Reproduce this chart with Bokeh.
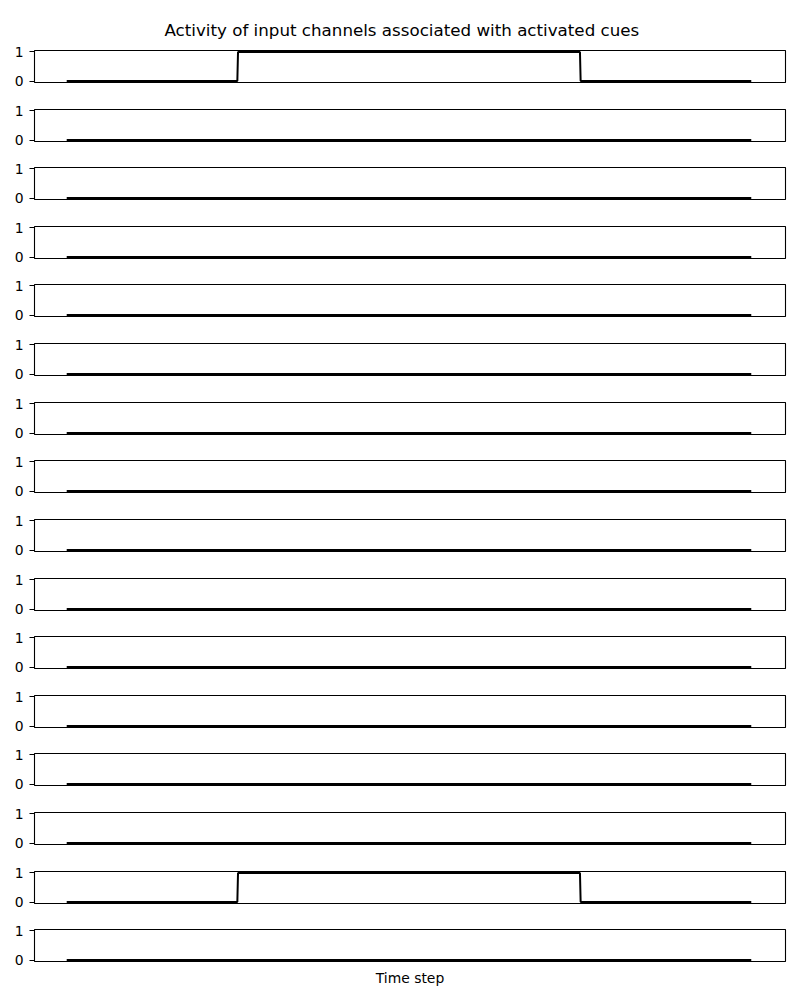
from bokeh.plotting import figure
from bokeh.layouts import column
from bokeh.models import Range1d, FixedTicker, LinearAxis
from bokeh.embed import file_html
from bokeh.resources import INLINE

title_text = "Activity of input channels associated with activated cues"
x_label = "Time step"

# breakpoints of each channel's activity (time step, level)
time_points = [0, 249, 250, 749, 750, 999]
channels = [
    [0, 0, 1, 1, 0, 0],
    [0, 0, 0, 0, 0, 0],
    [0, 0, 0, 0, 0, 0],
    [0, 0, 0, 0, 0, 0],
    [0, 0, 0, 0, 0, 0],
    [0, 0, 0, 0, 0, 0],
    [0, 0, 0, 0, 0, 0],
    [0, 0, 0, 0, 0, 0],
    [0, 0, 0, 0, 0, 0],
    [0, 0, 0, 0, 0, 0],
    [0, 0, 0, 0, 0, 0],
    [0, 0, 0, 0, 0, 0],
    [0, 0, 0, 0, 0, 0],
    [0, 0, 0, 0, 0, 0],
    [0, 0, 1, 1, 0, 0],
    [0, 0, 0, 0, 0, 0],
]
y_ticks = [0, 1]

FONT = "DejaVu Sans"
n = len(channels)
frame_h = 32
tops = [round(50 + i * 58.62) for i in range(n)]
starts = [0] + [t - 13 for t in tops[1:]]
ends = starts[1:] + [1000]

xr = Range1d(-47, 1048.95)
yr = Range1d(-0.05, 1.05)

figs = []
for i, ys in enumerate(channels):
    top_b = tops[i] - starts[i]
    bot_b = ends[i] - tops[i] - frame_h
    p = figure(width=800, height=ends[i] - starts[i], x_range=xr, y_range=yr,
               output_backend="svg", toolbar_location=None,
               min_border_left=34, min_border_right=15,
               min_border_top=top_b, min_border_bottom=bot_b,
               x_axis_location=None)
    p.line(time_points, ys, line_color="black", line_width=2.0)
    p.grid.visible = False
    p.outline_line_color = "black"
    p.outline_line_width = 1.1
    p.background_fill_color = "white"
    p.border_fill_color = "white"
    ax = p.yaxis[0]
    ax.ticker = FixedTicker(ticks=y_ticks)
    ax.axis_line_color = None
    ax.major_tick_in = 0
    ax.major_tick_out = 5
    ax.major_tick_line_width = 1.1
    ax.minor_tick_line_color = None
    ax.major_label_standoff = 6
    ax.major_label_text_font = FONT
    ax.major_label_text_font_size = "13.9px"
    ax.major_label_text_color = "black"
    if i == 0:
        p.title.text = title_text
        p.title.align = "left"
        p.title.offset = 130
        p.title.text_font = FONT
        p.title.text_font_size = "16.7px"
        p.title.text_font_style = "normal"
        p.title.text_color = "black"
        p.title.standoff = 22
    if i == n - 1:
        bx = LinearAxis(ticker=FixedTicker(ticks=[]), axis_label=x_label)
        bx.axis_line_color = None
        bx.major_tick_line_color = None
        bx.minor_tick_line_color = None
        bx.major_label_text_font_size = "0px"
        bx.axis_label_text_font = FONT
        bx.axis_label_text_font_size = "13.9px"
        bx.axis_label_text_font_style = "normal"
        bx.axis_label_text_color = "black"
        bx.axis_label_standoff = 8
        p.add_layout(bx, "below")
    figs.append(p)

layout = column(*figs, spacing=0)
open("out.html", "w").write(file_html(layout, INLINE))
